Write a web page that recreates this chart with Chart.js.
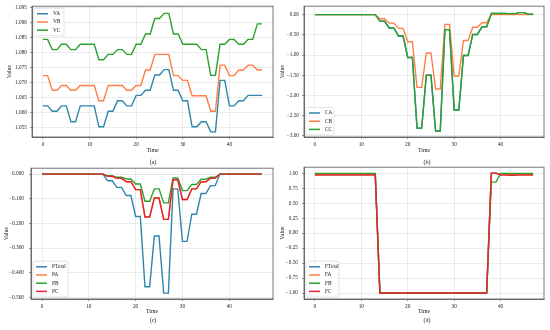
<!DOCTYPE html>
<html>
<head>
<meta charset="utf-8">
<script src="https://cdn.jsdelivr.net/npm/chart.js@4/dist/chart.umd.min.js"></script>
<style>
  body { margin: 0; background: #fff; }
  #fig { position: relative; width: 550px; height: 330px; font-family: "Liberation Serif", serif; }
  .panel { position: absolute; }
  .cap { position: absolute; font-size: 6px; color: #222; transform: translate(-50%, -50%); white-space: nowrap; }
</style>
</head>
<body>
<div id="fig">
  <div class="panel" style="left:0;top:0"><canvas id="chartA" width="275" height="158"></canvas></div>
  <div class="panel" style="left:275px;top:0"><canvas id="chartB" width="275" height="158"></canvas></div>
  <div class="panel" style="left:0;top:160px"><canvas id="chartC" width="275" height="160"></canvas></div>
  <div class="panel" style="left:275px;top:160px"><canvas id="chartD" width="275" height="160"></canvas></div>
  <div class="cap" style="left:153px;top:162px">(a)</div>
  <div class="cap" style="left:427px;top:162px">(b)</div>
  <div class="cap" style="left:153px;top:320px">(c)</div>
  <div class="cap" style="left:427px;top:320px">(d)</div>
</div>
<script>
// time steps 0..47
const time = Array.from({ length: 48 }, (_, i) => i);

// (a) voltages
const VA = [1.0623,1.0623,1.0605,1.0605,1.0623,1.0623,1.0570,1.0570,1.0623,1.0623,1.0623,1.0623,
  1.0553,1.0553,1.0605,1.0605,1.0640,1.0640,1.0623,1.0623,1.0658,1.0658,1.0675,1.0675,
  1.0726,1.0726,1.0744,1.0744,1.0675,1.0675,1.0640,1.0640,1.0553,1.0553,1.0570,1.0570,
  1.0536,1.0536,1.0708,1.0708,1.0623,1.0623,1.0640,1.0640,1.0658,1.0658,1.0658,1.0658];
const VB = [1.0724,1.0724,1.0675,1.0675,1.0691,1.0691,1.0675,1.0675,1.0691,1.0691,1.0691,1.0691,
  1.0640,1.0640,1.0691,1.0691,1.0691,1.0691,1.0675,1.0675,1.0691,1.0691,1.0743,1.0743,
  1.0795,1.0795,1.0795,1.0795,1.0724,1.0724,1.0708,1.0708,1.0657,1.0657,1.0657,1.0657,
  1.0605,1.0605,1.0759,1.0759,1.0724,1.0724,1.0743,1.0743,1.0759,1.0759,1.0743,1.0743];
const VC = [1.0845,1.0845,1.0811,1.0811,1.0829,1.0829,1.0811,1.0811,1.0829,1.0829,1.0829,1.0829,
  1.0777,1.0777,1.0795,1.0795,1.0811,1.0811,1.0795,1.0795,1.0829,1.0829,1.0863,1.0863,
  1.0915,1.0915,1.0932,1.0932,1.0863,1.0863,1.0829,1.0829,1.0829,1.0829,1.0811,1.0811,
  1.0725,1.0725,1.0829,1.0829,1.0845,1.0845,1.0829,1.0829,1.0845,1.0845,1.0897,1.0897];

// (b) currents
const CA = [0,0,0,0,0,0,0,0,0,0,0,0,0,0,
  -0.16,-0.16,-0.33,-0.33,-0.53,-0.53,-1.06,-1.06,-2.81,-2.81,-1.50,-1.50,-2.88,-2.88,
  -0.37,-0.37,-2.36,-2.36,-1.01,-1.01,-0.49,-0.49,-0.30,-0.30,
  0.03,0.03,0.03,0.03,0.02,0.02,0.05,0.05,0.01,0.01];
const CB = [0,0,0,0,0,0,0,0,0,0,0,0,0,0,
  -0.10,-0.10,-0.21,-0.21,-0.34,-0.34,-0.67,-0.67,-1.80,-1.80,-0.95,-0.95,-1.84,-1.84,
  -0.24,-0.24,-1.52,-1.52,-0.64,-0.64,-0.31,-0.31,-0.20,-0.20,
  0,0,0,0,0,0,0,0,0,0];
const CC = [0,0,0,0,0,0,0,0,0,0,0,0,0,0,
  -0.16,-0.16,-0.33,-0.33,-0.53,-0.53,-1.06,-1.06,-2.81,-2.81,-1.50,-1.50,-2.88,-2.88,
  -0.37,-0.37,-2.36,-2.36,-1.01,-1.01,-0.49,-0.49,-0.30,-0.30,
  0.03,0.03,0.03,0.03,0.02,0.02,0.05,0.05,0.01,0.01];

// (c) power
const PTotal = [0,0,0,0,0,0,0,0,0,0,0,0,0,0,
  -0.027,-0.027,-0.054,-0.054,-0.087,-0.087,-0.172,-0.172,-0.457,-0.457,-0.251,-0.251,-0.483,-0.483,
  -0.060,-0.060,-0.273,-0.273,-0.163,-0.163,-0.079,-0.079,-0.047,-0.047,
  0,0,0,0,0,0,0,0,0,0];
const PA = [0,0,0,0,0,0,0,0,0,0,0,0,0,0,
  -0.009,-0.009,-0.017,-0.017,-0.031,-0.031,-0.063,-0.063,-0.174,-0.174,-0.097,-0.097,-0.184,-0.184,
  -0.023,-0.023,-0.103,-0.103,-0.060,-0.060,-0.031,-0.031,-0.017,-0.017,
  0,0,0,0,0,0,0,0,0,0];
const PB = [0,0,0,0,0,0,0,0,0,0,0,0,0,0,
  -0.007,-0.007,-0.013,-0.013,-0.020,-0.020,-0.040,-0.040,-0.110,-0.110,-0.060,-0.060,-0.117,-0.117,
  -0.016,-0.016,-0.067,-0.067,-0.042,-0.042,-0.021,-0.021,-0.013,-0.013,
  0,0,0,0,0,0,0,0,0,0];
const PC = [0,0,0,0,0,0,0,0,0,0,0,0,0,0,
  -0.009,-0.009,-0.017,-0.017,-0.031,-0.031,-0.063,-0.063,-0.174,-0.174,-0.097,-0.097,-0.184,-0.184,
  -0.023,-0.023,-0.103,-0.103,-0.060,-0.060,-0.031,-0.031,-0.017,-0.017,
  0,0,0,0,0,0,0,0,0,0];

// (d) power factor
const FTotal = [0.985,0.985,0.985,0.985,0.985,0.985,0.985,0.985,0.985,0.985,0.985,0.985,0.985,0.985,
  -1,-1,-1,-1,-1,-1,-1,-1,-1,-1,-1,-1,-1,-1,-1,-1,-1,-1,-1,-1,-1,-1,-1,-1,
  1.0,1.0,0.985,0.985,0.985,0.985,0.985,0.985,0.985,0.985];
const FA = [0.98,0.98,0.98,0.98,0.98,0.98,0.98,0.98,0.98,0.98,0.98,0.98,0.98,0.98,
  -1,-1,-1,-1,-1,-1,-1,-1,-1,-1,-1,-1,-1,-1,-1,-1,-1,-1,-1,-1,-1,-1,-1,-1,
  1.0,1.0,0.98,0.98,0.98,0.98,0.98,0.98,0.98,0.98];
const FB = [0.995,0.995,0.995,0.995,0.995,0.995,0.995,0.995,0.995,0.995,0.995,0.995,0.995,0.995,
  -1,-1,-1,-1,-1,-1,-1,-1,-1,-1,-1,-1,-1,-1,-1,-1,-1,-1,-1,-1,-1,-1,-1,-1,
  0.85,0.85,0.995,0.995,0.995,0.995,0.995,0.995,0.995,0.995];
const FC = [0.97,0.97,0.97,0.97,0.97,0.97,0.97,0.97,0.97,0.97,0.97,0.97,0.97,0.97,
  -1,-1,-1,-1,-1,-1,-1,-1,-1,-1,-1,-1,-1,-1,-1,-1,-1,-1,-1,-1,-1,-1,-1,-1,
  1.0,1.0,0.97,0.97,0.965,0.965,0.97,0.97,0.97,0.97];

const xTicks = [0, 10, 20, 30, 40];
const colors = ['#2e86ab', '#ff7f45', '#2ca02c', '#e3262d'];
const FONT = '"Liberation Serif", serif';

// draws the top/right spines and the full box round the plot
const framePlugin = {
  id: 'frame',
  afterDraw(chart) {
    const { ctx, chartArea: a } = chart;
    ctx.save();
    ctx.strokeStyle = '#555';
    ctx.lineWidth = 0.8;
    ctx.strokeRect(a.left, a.top, a.right - a.left, a.bottom - a.top);
    ctx.restore();
  }
};

// matplotlib-like legend inside the plot
const boxLegend = {
  id: 'boxLegend',
  afterDraw(chart, args, opts) {
    const { ctx, chartArea: a } = chart;
    const sets = chart.data.datasets;
    const rowH = 8.2;
    const w = opts.width, h = sets.length * rowH + 3;
    const x = a.left + 2;
    const y = opts.corner === 'top' ? a.top + 2 : a.bottom - 2 - h;
    ctx.save();
    ctx.fillStyle = 'rgba(255,255,255,0.85)';
    ctx.strokeStyle = '#d0d0d0';
    ctx.lineWidth = 0.6;
    ctx.beginPath();
    ctx.roundRect(x, y, w, h, 1.5);
    ctx.fill();
    ctx.stroke();
    ctx.font = '5.3px ' + FONT;
    ctx.textBaseline = 'middle';
    sets.forEach((ds, i) => {
      const cy = y + 1.5 + rowH * (i + 0.5);
      ctx.strokeStyle = ds.borderColor;
      ctx.lineWidth = 1.5;
      ctx.beginPath();
      ctx.moveTo(x + 3, cy);
      ctx.lineTo(x + 14, cy);
      ctx.stroke();
      ctx.fillStyle = '#222';
      ctx.fillText(ds.label, x + 19, cy);
    });
    ctx.restore();
  }
};

function fmt(v, digits) {
  const s = Math.abs(v).toFixed(digits);
  return v < -1e-9 ? '\u2212' + s : s;
}

function makeChart(id, p) {
  const canvas = document.getElementById(id);
  const datasets = p.series.map((vals, i) => ({
    label: p.labels[i],
    data: time.map((t, k) => ({ x: t, y: vals[k] })),
    borderColor: colors[i],
    borderWidth: 1.4,
    pointRadius: 0,
    tension: 0,
    order: p.series.length - i
  }));
  return new Chart(canvas, {
    type: 'line',
    data: { datasets },
    options: {
      responsive: false,
      animation: false,
      layout: { padding: { left: 0, top: p.area.t, right: canvas.width - p.area.r, bottom: 0 } },
      plugins: {
        legend: { display: false },
        tooltip: { enabled: false },
        boxLegend: { corner: p.legendCorner, width: p.legendWidth }
      },
      scales: {
        x: {
          type: 'linear',
          min: -2.35,
          max: 49.35,
          afterBuildTicks: s => { s.ticks = xTicks.map(v => ({ value: v })); },
          afterFit: s => { s.height = canvas.height - p.area.b; },
          ticks: { font: { family: FONT, size: 5.3 }, color: '#222', padding: p.xPad, maxRotation: 0,
            callback: v => String(v) },
          grid: { color: '#dedede', lineWidth: 0.6, tickLength: 2, tickColor: '#555' },
          border: { color: '#555', width: 0.8 },
          title: { display: true, text: 'Time', font: { family: FONT, size: 5.8 }, color: '#222',
            padding: { top: 0, bottom: p.xTitlePad } }
        },
        y: {
          min: p.yMin,
          max: p.yMax,
          afterBuildTicks: s => { s.ticks = p.yTicks.map(v => ({ value: v })); },
          afterFit: s => { s.width = p.area.l; },
          ticks: { font: { family: FONT, size: 5.3 }, color: '#222', padding: p.yPad,
            callback: v => fmt(v, p.digits) },
          grid: { color: '#dedede', lineWidth: 0.6, tickLength: 2, tickColor: '#555' },
          border: { color: '#555', width: 0.8 },
          title: { display: true, text: 'Value', font: { family: FONT, size: 5.8 }, color: '#222',
            padding: { top: p.yTitlePad, bottom: 0 } }
        }
      }
    },
    plugins: [framePlugin, boxLegend]
  });
}

makeChart('chartA', {
  series: [VA, VB, VC], labels: ['VA', 'VB', 'VC'],
  area: { l: 32, t: 5, r: 273, b: 137 },
  yMin: 1.0519, yMax: 1.0956,
  yTicks: [1.055, 1.060, 1.065, 1.070, 1.075, 1.080, 1.085, 1.090, 1.095], digits: 3,
  xPad: 2, yPad: 3, xTitlePad: 4, yTitlePad: 6,
  legendCorner: 'top', legendWidth: 30
});
makeChart('chartB', {
  series: [CA, CB, CC], labels: ['CA', 'CB', 'CC'],
  area: { l: 29, t: 5, r: 269, b: 137 },
  yMin: -3.03, yMax: 0.21,
  yTicks: [-3, -2.5, -2, -1.5, -1, -0.5, 0], digits: 2,
  xPad: 2, yPad: 3, xTitlePad: 4, yTitlePad: 4,
  legendCorner: 'bottom', legendWidth: 28
});
makeChart('chartC', {
  series: [PTotal, PA, PB, PC], labels: ['PTotal', 'PA', 'PB', 'PC'],
  area: { l: 31, t: 7, r: 273, b: 139 },
  yMin: -0.507, yMax: 0.024,
  yTicks: [-0.5, -0.4, -0.3, -0.2, -0.1, 0], digits: 3,
  xPad: 2.5, yPad: 5, xTitlePad: 5, yTitlePad: 3,
  legendCorner: 'bottom', legendWidth: 35
});
makeChart('chartD', {
  series: [FTotal, FA, FB, FC], labels: ['FTotal', 'FA', 'FB', 'FC'],
  area: { l: 29, t: 7, r: 269, b: 139 },
  yMin: -1.1, yMax: 1.1,
  yTicks: [-1, -0.75, -0.5, -0.25, 0, 0.25, 0.5, 0.75, 1], digits: 2,
  xPad: 2.5, yPad: 4, xTitlePad: 5, yTitlePad: 3.5,
  legendCorner: 'bottom', legendWidth: 33
});
</script>
</body>
</html>
